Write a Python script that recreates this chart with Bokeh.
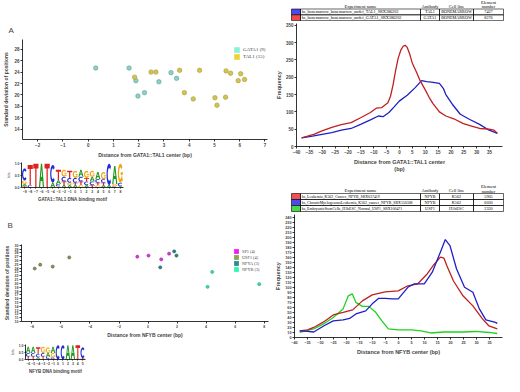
import numpy as np
from bokeh.plotting import figure
from bokeh.layouts import column, row
from bokeh.models import Range1d, FixedTicker, Legend, LegendItem, ColumnDataSource
from bokeh.core.properties import value
from bokeh.embed import file_html
from bokeh.resources import INLINE

# ---------------- data ----------------
# Panel A scatter
gata1_x = [0.3, 1.62, 1.89, 1.97, 2.23, 2.8, 3.28, 3.5]
gata1_y = [24.7, 24.7, 22.5, 19.8, 20.4, 22.3, 23.9, 22.9]
tal1_x = [1.84, 2.49, 2.68, 3.62, 3.81, 4.16, 4.41, 5.02, 5.1, 5.44, 5.46, 5.64, 5.94, 6.04, 6.19]
tal1_y = [23.1, 24.0, 24.0, 24.3, 20.4, 19.3, 24.3, 19.5, 18.2, 19.6, 24.2, 23.8, 22.5, 23.7, 22.7]
legendA_labels = ["GATA1 (9)", "TAL1 (15)"]
scatterA_xticks = [-2, -1, 0, 1, 2, 3, 4, 5, 6, 7]
scatterA_yticks = [14, 16, 18, 20, 22, 24, 26, 28]

# Panel B scatter
sp1_x = [-0.74, 0.03, 0.91, 1.45]
sp1_y = [27.0, 27.3, 26.3, 27.8]
usf1_x = [-7.81, -7.43, -6.57, -5.43]
usf1_y = [23.9, 24.9, 24.4, 26.8]
nfya_x = [0.84, 1.8, 1.96]
nfya_y = [24.2, 28.4, 27.3]
nfyb_x = [4.42, 4.1, 7.66]
nfyb_y = [23.0, 19.1, 19.8]
legendB_labels = ["SP1 (4)", "USF1 (4)", "NFYA (3)", "NFYB (3)"]
scatterB_xticks = [-8, -6, -4, -2, 0, 2, 4, 6, 8]
scatterB_yticks = list(range(10, 31))

# Panel A frequency curves
lineA_gata1_x = [-38, -35.7, -33, -30.1, -26.3, -22.6, -18.8, -15.1, -11.3, -8.9, -7, -4.5, -3.5, -2.5,
                 -1.5, -0.5, 0.5, 1.5, 2.2, 3, 4, 5, 6.7, 8, 9.9, 11.5, 13, 15.5, 18, 21.1, 24.8, 28,
                 31.1, 34.8, 36.7, 38]
lineA_gata1_y = [25, 30, 36, 45, 55, 63, 69, 83, 98, 111, 112, 126, 145, 178, 220, 255, 278, 290, 292,
                 286, 266, 240, 213, 190, 165, 142, 124, 100, 88, 80, 66, 59, 52, 50, 47, 38]
lineA_tal1_x = [-38, -33.8, -30.1, -26.3, -22.6, -18.8, -15.1, -11.3, -8.2, -6.4, -4.1, -2, -0.1, 3,
                6.1, 8.6, 10.5, 12.4, 15.5, 17, 18, 20.5, 23.6, 27.3, 31.1, 34.8, 38]
lineA_tal1_y = [25, 30, 35, 40, 47, 52, 64, 77, 88, 86, 98, 115, 131, 148, 170, 190, 187, 186, 182,
                168, 150, 122, 93, 78, 64, 47, 38]
lineA_xticks = list(range(-40, 40, 5))
lineA_yticks = [0, 50, 100, 150, 200, 250, 300, 350]

# Panel B frequency curves
lineB_nfyb1_x = [-38, -35, -32.6, -28.8, -25.1, -21.3, -17.6, -13.9, -10.1, -5.1, -0.1, 3.6, 7.4, 11.1,
                 13.6, 16.1, 17.5, 18.6, 21.1, 24.8, 28.6, 32.3, 34.8, 38]
lineB_nfyb1_y = [13, 15, 20, 31, 45, 50, 55, 73, 85, 91, 93, 103, 107, 127, 145, 160, 158, 143, 113,
                 83, 63, 37, 23, 17]
lineB_nfyb2_x = [-38, -35, -32.6, -28.8, -25.1, -21.3, -18.8, -16.4, -12.6, -10.1, -7.6, -5.1, -2.6,
                 -0.1, 3.6, 6.1, 9.9, 13, 16.1, 18, 19.8, 22.3, 25.4, 28.6, 31.1, 33.6, 37.3, 38]
lineB_nfyb2_y = [13, 12, 11, 23, 33, 35, 38, 47, 53, 67, 78, 78, 77, 77, 100, 107, 107, 130, 170, 195,
                 183, 137, 100, 90, 57, 35, 30, 28]
lineB_usf1_x = [-38, -32.6, -28.8, -25.1, -21.3, -19.3, -17.8, -16.4, -13.9, -11.4, -8.9, -6.4, -3.9,
                -0.1, 4.9, 8.6, 12.4, 17.3, 24.8, 29.8, 34.8, 38]
lineB_usf1_y = [10, 17, 27, 40, 57, 83, 87, 70, 62, 62, 51, 33, 17, 15, 15, 13, 9, 11, 11, 12, 10, 8]
lineB_xticks = list(range(-40, 40, 5))
lineB_yticks = list(range(0, 250, 10))

# Tables
tableA_names = ["hs_bonemarrow_bonemarrow_undef_TAL1_SRX386203",
                "hs_bonemarrow_bonemarrow_undef_GATA1_SRX386202"]
tableA_antibody = ["TAL1", "GATA1"]
tableA_cell = ["BONEMARROW", "BONEMARROW"]
tableA_number = ["7427", "8276"]
tableB_names = ["hs_Leukemia_K562_Cancer_NFYB_SRX037419",
                "hs_ChronicMyelogenousLeukemia_K562_cancer_NFYB_SRX150308",
                "hs_EmbryonicStemCells_H1hESC_Normal_USF1_SRX100471"]
tableB_antibody = ["NFYB", "NFYB", "USF1"]
tableB_cell = ["K562", "K562", "H1hESC"]
tableB_number = ["5905", "6030", "2320"]
table_header = ["Experiment name", "Antibody", "Cell line", "Element number"]

# Motifs (bits per letter)
motifA_pos = list(range(-9, 9))
motifA_A = [.10, .00, .00, 1.0, .00, .20, .15, .10, .10, .10, .30, .10, .20, .30, .10, .10, .75, .05]
motifA_C = [.50, .10, .00, .00, .00, .75, .10, .20, .20, .20, .20, .15, .15, .15, .15, .90, .05, .15]
motifA_G = [.15, .00, .00, .00, .00, .00, .05, .30, .10, .30, .10, .30, .25, .10, .30, .00, .10, .80]
motifA_T = [.05, .85, 1.0, .00, 1.0, .00, .45, .15, .30, .10, .15, .15, .10, .10, .10, .00, .00, .00]
motifB_pos = list(range(-6, 6))
motifB_A = [.45, .45, .10, .05, .25, .45, .00, .00, 1.0, 1.0, .00, .00]
motifB_C = [.25, .25, .25, .25, .15, .10, 1.0, 1.0, .00, .00, .05, .75]
motifB_G = [.05, .05, .05, .45, .40, .30, .00, .00, .00, .00, .00, .00]
motifB_T = [.15, .15, .45, .15, .05, .05, .00, .00, .00, .00, .95, .10]

# ---------------- styles ----------------
SANS = "Liberation Sans"
SERIF = "Liberation Serif"
LETTER_COLORS = {"A": "#1f9a1f", "C": "#1f2fd6", "G": "#f2a516", "T": "#e01f1f"}


def make_fig(**kw):
    p = figure(output_backend="svg", toolbar_location=None, background_fill_color="white",
               border_fill_color="white", **kw)
    p.frame_align = False
    return p


def style(p, tick_fs="4.5px", lab_fs="5px"):
    p.grid.visible = False
    p.outline_line_color = None
    for ax in p.axis:
        ax.axis_line_width = 0.8
        ax.major_tick_line_width = 0.8
        ax.major_tick_out = 2
        ax.major_tick_in = 0
        ax.minor_tick_out = 0
        ax.minor_tick_in = 0
        ax.major_label_text_font = SANS
        ax.major_label_text_font_style = "bold"
        ax.major_label_text_font_size = tick_fs
        ax.major_label_standoff = 1
        ax.axis_label_text_font = SANS
        ax.axis_label_text_font_style = "bold"
        ax.axis_label_text_font_size = lab_fs
        ax.axis_label_standoff = 2


def panel_title(p, txt, standoff):
    p.title.text = txt
    p.title.text_font = SANS
    p.title.text_font_style = "normal"
    p.title.text_font_size = "8px"
    p.title.align = "left"
    p.title.offset = -14
    p.title.standoff = standoff


def legend_for(p, labels, colors, loc, gsize, fs):
    items = []
    for lbl, col in zip(labels, colors):
        # legend-only swatch renderer (no visible mark in the frame)
        r = p.quad(left=[np.nan], right=[np.nan], top=[np.nan], bottom=[np.nan],
                   fill_color=col, line_color=None)
        items.append(LegendItem(label=lbl, renderers=[r]))
    leg = Legend(items=items, location=loc, glyph_width=gsize, glyph_height=gsize,
                 label_height=gsize, label_width=10, spacing=0, padding=0, margin=0,
                 label_standoff=3, label_text_font=SERIF, label_text_font_size=fs,
                 border_line_color=None, background_fill_alpha=0)
    p.add_layout(leg)


# ---------------- scatter A ----------------
pA = make_fig(width=272, height=160, x_range=Range1d(-2.6, 7.1), y_range=Range1d(12.2, 29.7),
              min_border_left=10, min_border_right=5, min_border_top=39, min_border_bottom=21)
panel_title(pA, "A", 10)
pA.scatter(gata1_x, gata1_y, size=4.5, fill_color="#8ecfc6", line_color="#5f9f98", line_width=0.6)
pA.scatter(tal1_x, tal1_y, size=4.5, fill_color="#d2c453", line_color="#a99b35", line_width=0.6)
style(pA)
pA.xaxis.ticker = FixedTicker(ticks=scatterA_xticks)
pA.yaxis.ticker = FixedTicker(ticks=scatterA_yticks)
pA.xaxis.axis_label = "Distance from GATA1::TAL1 center (bp)"
pA.yaxis.axis_label = "Standard deviation of positions"
legend_for(pA, legendA_labels, ["#86f2d6", "#f0d232"], (211, 79), 7, "5px")


# ---------------- motif helper ----------------
def unit_letter(ch):
    if ch == "T":
        return [[[(0, 1), (1, 1), (1, 0.8), (0.62, 0.8), (0.62, 0), (0.38, 0), (0.38, 0.8), (0, 0.8)]]]
    if ch == "A":
        return [[[(0, 0), (0.38, 1), (0.62, 1), (1, 0), (0.76, 0), (0.67, 0.27), (0.33, 0.27), (0.24, 0)],
                 [(0.39, 0.45), (0.61, 0.45), (0.5, 0.78)]]]
    a0, a1 = (np.radians(45), np.radians(315)) if ch == "C" else (np.radians(40), np.radians(350))
    t = np.linspace(a0, a1, 24)
    outer = [(0.5 + 0.5 * np.cos(a), 0.5 + 0.5 * np.sin(a)) for a in t]
    inner = [(0.5 + 0.27 * np.cos(a), 0.5 + 0.3 * np.sin(a)) for a in t[::-1]]
    polys = [[outer + inner]]
    if ch == "G":
        polys.append([[(0.55, 0.55), (1.0, 0.55), (1.0, 0.1), (0.82, 0.1), (0.82, 0.41), (0.55, 0.41)]])
    return polys


def draw_logo(p, pos, heights):
    xs, ys, cols = [], [], []
    w = 0.92
    for i, x in enumerate(pos):
        stack = sorted([(heights[ch][i], ch) for ch in "ACGT" if heights[ch][i] > 0])
        y0 = 0.0
        for h, ch in stack:
            gx, gy = [], []
            for poly in unit_letter(ch):
                gx.append([[float(x - w / 2 + u * w) for u, v in ring] for ring in poly])
                gy.append([[float(y0 + v * h) for u, v in ring] for ring in poly])
            xs.append(gx)
            ys.append(gy)
            cols.append(LETTER_COLORS[ch])
            y0 += h
    src = ColumnDataSource(dict(xs=xs, ys=ys, c=cols))
    p.multi_polygons(xs="xs", ys="ys", fill_color="c", line_color=None, source=src)


def motif_fig(pos, heights, caption, height, bl, br, bt, bb):
    p = make_fig(width=272, height=height, x_range=Range1d(pos[0] - 0.55, pos[-1] + 0.55),
                 y_range=Range1d(0, 1.05), min_border_left=bl, min_border_right=br,
                 min_border_top=bt, min_border_bottom=bb)
    draw_logo(p, pos, heights)
    style(p, tick_fs="3.5px", lab_fs="4.5px")
    p.xaxis.ticker = FixedTicker(ticks=pos)
    p.yaxis.ticker = FixedTicker(ticks=[0, 0.5, 1.0])
    p.yaxis.major_label_overrides = {0: "0.0", 0.5: "0.5", 1.0: "1.0"}
    p.yaxis.axis_label = "bits"
    p.yaxis.axis_label_text_font_size = "3.5px"
    p.yaxis.axis_label_text_font_style = "normal"
    p.yaxis.axis_label_standoff = 1
    p.xaxis.axis_label = caption
    p.xaxis.axis_label_standoff = 1
    for ax in p.axis:
        ax.major_tick_out = 1
    return p


pAm = motif_fig(motifA_pos, {"A": motifA_A, "C": motifA_C, "G": motifA_G, "T": motifA_T},
                "GATA1::TAL1 DNA binding motif", 44, 21, 149, 2, 14)

# ---------------- scatter B ----------------
pB = make_fig(width=272, height=136, x_range=Range1d(-8.72, 8.3), y_range=Range1d(10, 30.2),
              min_border_left=12, min_border_right=4, min_border_top=40, min_border_bottom=13)
panel_title(pB, "B", 29)
pB.scatter(sp1_x, sp1_y, size=3.2, fill_color="#d23cd2", line_color="#a020a0", line_width=0.5)
pB.scatter(usf1_x, usf1_y, size=3.2, fill_color="#8c8c5a", line_color="#60603a", line_width=0.5)
pB.scatter(nfya_x, nfya_y, size=3.2, fill_color="#2f7f82", line_color="#1f5f62", line_width=0.5)
pB.scatter(nfyb_x, nfyb_y, size=3.2, fill_color="#3bd6a8", line_color="#22a884", line_width=0.5)
style(pB, tick_fs="3.5px", lab_fs="5px")
pB.xaxis.ticker = FixedTicker(ticks=scatterB_xticks)
pB.yaxis.ticker = FixedTicker(ticks=scatterB_yticks)
pB.xaxis.axis_label = "Distance from NFYB center (bp)"
pB.yaxis.axis_label = "Standard deviation of positions"
pB.xaxis.axis_label_standoff = 1
legend_for(pB, legendB_labels, ["#f21cf2", "#88a84a", "#2f8a8c", "#33f5b0"], (212, 49), 6, "4.3px")

pBm = motif_fig(motifB_pos, {"A": motifB_A, "C": motifB_C, "G": motifB_G, "T": motifB_T},
                "NFYB DNA binding motif", 36, 25, 187, 4, 14)


# ---------------- tables ----------------
def make_table(names, abs_, cells, nums, colors, height, header_h, rh, name_fs):
    p = make_fig(width=232, height=height, x_range=Range1d(0, 232), y_range=Range1d(height, 0),
                 min_border=0, x_axis_type=None, y_axis_type=None)
    p.outline_line_color = None
    edges = [28, 148, 167, 201, 231]
    n = len(names)
    tops = [header_h + i * rh for i in range(n)]
    bots = [header_h + (i + 1) * rh for i in range(n)]
    # swatches
    p.quad(left=[19] * n, right=[28] * n, top=tops, bottom=bots, fill_color=colors,
           line_color="black", line_width=0.6)
    # cells
    L, R, T, B = [], [], [], []
    for i in range(n):
        for j in range(4):
            L.append(edges[j]); R.append(edges[j + 1]); T.append(tops[i]); B.append(bots[i])
    p.quad(left=L, right=R, top=T, bottom=B, fill_color=None, line_color="black", line_width=0.6)
    mids = [(t + b) / 2 for t, b in zip(tops, bots)]
    tf = value(SERIF)
    p.text(x=[edges[0] + 1.2] * n, y=mids, text=names, text_font=tf, text_font_size=name_fs,
           text_align="left", text_baseline="middle")
    for j, col in enumerate([abs_, cells, nums]):
        cx = (edges[j + 1] + edges[j + 2]) / 2
        p.text(x=[cx] * n, y=mids, text=col, text_font=tf, text_font_size="4.2px",
               text_align="center", text_baseline="middle")
    # header
    hx = [(edges[j] + edges[j + 1]) / 2 for j in range(3)]
    p.text(x=hx, y=[header_h - 3] * 3, text=table_header[:3], text_font=tf, text_font_size="4.5px",
           text_align="center", text_baseline="middle")
    ex = (edges[3] + edges[4]) / 2
    p.text(x=[ex, ex], y=[header_h - 7, header_h - 2.5], text=table_header[3].split(" "),
           text_font=tf, text_font_size="4.5px", text_align="center", text_baseline="middle")
    return p


tA = make_table(tableA_names, tableA_antibody, tableA_cell, tableA_number,
                ["#4a4af0", "#f04a4a"], 21, 8.5, 5.8, "4.2px")
tB = make_table(tableB_names, tableB_antibody, tableB_cell, tableB_number,
                ["#f25050", "#4a4af0", "#4ad84a"], 30, 11, 6, "3.9px")


# ---------------- line charts ----------------
def line_fig(height, ymax, xticks, yticks, xlabel, bb, tick_fs):
    p = make_fig(width=232, height=height, x_range=Range1d(-40, 40), y_range=Range1d(0, ymax),
                 min_border_left=20, min_border_right=2, min_border_top=2, min_border_bottom=bb)
    style(p, tick_fs=tick_fs, lab_fs="5.5px")
    p.xaxis.ticker = FixedTicker(ticks=xticks)
    p.yaxis.ticker = FixedTicker(ticks=yticks)
    p.xaxis.axis_label = xlabel
    p.yaxis.axis_label = "Frequency"
    p.yaxis.axis_label_standoff = 1
    return p


lA = line_fig(161, 355, lineA_xticks, lineA_yticks, "Distance from GATA1::TAL1 center\n(bp)", 36, "4.5px")
lA.line(lineA_tal1_x, lineA_tal1_y, line_color="#1f1fc8", line_width=1.3)
lA.line(lineA_gata1_x, lineA_gata1_y, line_color="#c02020", line_width=1.3)

lB = line_fig(164, 245, lineB_xticks, lineB_yticks, "Distance from NFYB center (bp)", 39, "3.8px")
lB.line(lineB_usf1_x, lineB_usf1_y, line_color="#1fd21f", line_width=1.3)
lB.line(lineB_nfyb1_x, lineB_nfyb1_y, line_color="#c02020", line_width=1.3)
lB.line(lineB_nfyb2_x, lineB_nfyb2_y, line_color="#1f1fc8", line_width=1.3)

left = column(pA, pAm, pB, pBm)
right = column(tA, lA, tB, lB)
layout = row(left, right)

open("out.html", "w").write(file_html(layout, INLINE))
